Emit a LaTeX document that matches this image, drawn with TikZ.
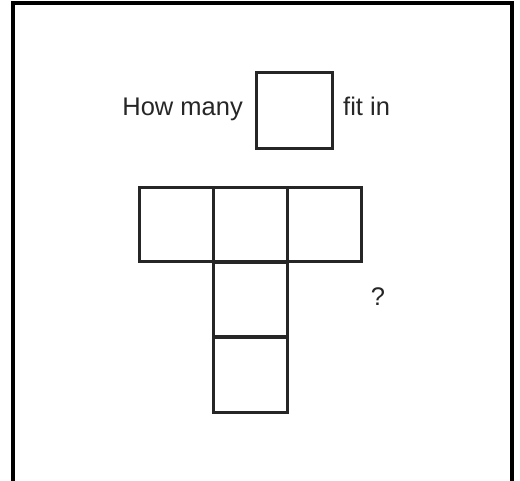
\documentclass[tikz,border=0pt]{standalone}
\usepackage{fontspec}
\setmainfont{Liberation Sans}
\begin{document}
\begin{tikzpicture}[x=1pt,y=-1pt,
  cell/.style={draw=black!85, line width=3pt, minimum width=74pt, minimum height=74pt, inner sep=0pt, anchor=center},
  lbl/.style={inner sep=0pt, font=\fontsize{25.5}{30}\selectfont, text=black!85}]
\useasboundingbox (0,0) rectangle (520,481);
% outer frame (open at the bottom)
\coordinate (fbl) at (13,490);
\coordinate (ftl) at (13,3);
\coordinate (ftr) at (512,3);
\coordinate (fbr) at (512,490);
\draw[line width=3.2pt, line join=miter] (fbl) -- (ftl) -- (ftr) -- (fbr);
% question line
\node[cell, minimum width=76pt, minimum height=76pt] (unit) at (294.5,111) {};
\node[lbl, anchor=base east] (how) at (243,115.5) {How many};
\node[lbl, anchor=base west] (fit) at (343,115.5) {fit in};
% T shape
\node[cell] (t1) at (176.8,224.2) {};
\node[cell] (t2) at (250.5,224.2) {};
\node[cell] (t3) at (324.2,224.2) {};
\node[cell] (t4) at (250.5,299.2) {};
\node[cell, minimum height=75pt] (t5) at (250.5,374.7) {};
\node[lbl, anchor=base] (q) at (378,306) {?};
\end{tikzpicture}
\end{document}
